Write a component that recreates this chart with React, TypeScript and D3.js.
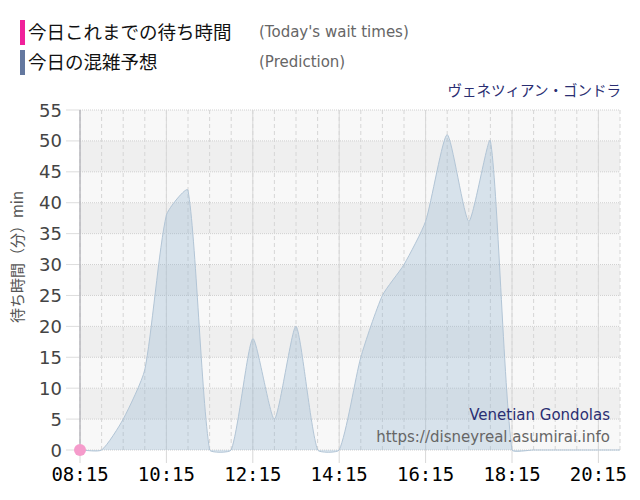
import React from 'react';
import * as d3 from 'd3';

// prediction every 30 min (minutes of wait)
const times = [
  '08:15', '08:45', '09:15', '09:45', '10:15', '10:45', '11:15', '11:45',
  '12:15', '12:45', '13:15', '13:45', '14:15', '14:45', '15:15', '15:45',
  '16:15', '16:45', '17:15', '17:45', '18:15', '18:45', '19:15', '19:45',
  '20:15', '20:45'
];
const prediction = [
  0, 0, 5, 13, 38, 42, 0, 0,
  18, 5, 20, 0, 0, 15, 25, 30,
  37, 51, 37, 50, 0, 0, 0, 0,
  0, 0
];
const actualTimes = ['08:15'];
const actualValues = [0];
const yTicks = [0, 5, 10, 15, 20, 25, 30, 35, 40, 45, 50, 55];
const xTickLabels = ['08:15', '10:15', '12:15', '14:15', '16:15', '18:15', '20:15'];

const toMin = (t: string) => {
  const [h, m] = t.split(':').map(Number);
  return h * 60 + m;
};

type P = [number, number];

// chart.js style spline, control points capped to the area
const splinePath = (p: P[], tension: number, yMin: number, yMax: number, close?: number) => {
  const cps = p.map((cur, i) => {
    const prev = p[Math.max(0, i - 1)];
    const next = p[Math.min(p.length - 1, i + 1)];
    const d01 = Math.hypot(cur[0] - prev[0], cur[1] - prev[1]);
    const d12 = Math.hypot(next[0] - cur[0], next[1] - cur[1]);
    const tot = d01 + d12 || 1;
    const fa = (tension * d01) / tot;
    const fb = (tension * d12) / tot;
    const cap = (v: number) => Math.max(yMin, Math.min(yMax, v));
    return {
      prev: [cur[0] - fa * (next[0] - prev[0]), cap(cur[1] - fa * (next[1] - prev[1]))] as P,
      next: [cur[0] + fb * (next[0] - prev[0]), cap(cur[1] + fb * (next[1] - prev[1]))] as P,
    };
  });
  const path = d3.path();
  path.moveTo(p[0][0], p[0][1]);
  for (let i = 1; i < p.length; i++) {
    const a = cps[i - 1].next, b = cps[i].prev;
    path.bezierCurveTo(a[0], a[1], b[0], b[1], p[i][0], p[i][1]);
  }
  if (close !== undefined) {
    path.lineTo(p[p.length - 1][0], close);
    path.lineTo(p[0][0], close);
    path.closePath();
  }
  return path.toString();
};

const App: React.FC = () => {
  const left = 80, right = 620, top = 110, bottom = 450;
  const x = d3.scaleLinear().domain([toMin(times[0]), toMin(times[times.length - 1])]).range([left, right]);
  const y = d3.scaleLinear().domain([0, 55]).range([bottom, top]);

  const pts: P[] = times.map((t, i) => [x(toMin(t)), y(prediction[i])]);
  const areaD = splinePath(pts, 0.2, top, bottom + 3, y(0));
  const lineD = splinePath(pts, 0.2, top, bottom + 3);

  const halfHours = d3.range(toMin(times[0]), toMin(times[times.length - 1]) + 1, 30);
  const bands = d3.range(0, 55, 5);

  const jp = '"Noto Sans CJK JP", sans-serif';
  const sans = '"DejaVu Sans", Verdana, sans-serif';

  return (
    <svg width={640} height={500} style={{ position: 'absolute', left: 0, top: 0, background: '#fff' }}>
      {/* legend */}
      <rect x={20} y={20} width={5} height={25} fill="#f0219a" />
      <text x={28} y={39} fontFamily={jp} fontSize={18.5} fill="#111">今日これまでの待ち時間</text>
      <text x={259} y={37} fontFamily={sans} fontSize={15} fill="#666">(Today's wait times)</text>
      <rect x={20} y={50} width={5} height={25} fill="#64789f" />
      <text x={28} y={69} fontFamily={jp} fontSize={18.5} fill="#111">今日の混雑予想</text>
      <text x={259} y={67} fontFamily={sans} fontSize={15} fill="#666">(Prediction)</text>
      <text x={621} y={96} textAnchor="end" fontFamily={jp} fontSize={14.5} fill="#2a2e72">ヴェネツィアン・ゴンドラ</text>

      {/* plot bands */}
      {bands.map((b, i) => (
        <rect key={b} x={left} y={y(b + 5)} width={right - left} height={y(b) - y(b + 5)}
          fill={i % 2 === 1 ? '#efefef' : '#f8f8f8'} />
      ))}
      {halfHours.map((m) => (
        <line key={m} x1={x(m)} x2={x(m)} y1={top} y2={bottom}
          stroke="#d6d6d6" strokeDasharray="4,3" />
      ))}
      {yTicks.map((v) => (
        <g key={v}>
          <line x1={left} x2={right} y1={y(v)} y2={y(v)} stroke="#d0d0d0" strokeDasharray="1,1" />
          <line x1={66} x2={left} y1={y(v)} y2={y(v)} stroke="#ddd" />
          <text x={62} y={y(v) + 6.5} textAnchor="end" fontFamily={sans} fontSize={18} fill="#444">{v}</text>
        </g>
      ))}
      {xTickLabels.map((t) => (
        <g key={t}>
          <line x1={x(toMin(t))} x2={x(toMin(t))} y1={top} y2={463} stroke="#d8d8d8" />
          <text x={x(toMin(t))} y={481} textAnchor="middle" fontFamily='"DejaVu Sans Mono", monospace' fontSize={19} fill="#000">{t}</text>
        </g>
      ))}
      <line x1={left} x2={left} y1={top} y2={bottom} stroke="#a8a8b0" />

      {/* prediction */}
      <path d={areaD} fill="rgb(140,175,205)" fillOpacity={0.3} />
      <path d={lineD} fill="none" stroke="#b2c5d6" strokeWidth={1} />

      {/* actual */}
      {actualTimes.map((t, i) => (
        <circle key={t} cx={x(toMin(t))} cy={y(actualValues[i])} r={6} fill="#f59bcb" />
      ))}

      {/* axis title */}
      <text transform="translate(23,257) rotate(-90)" textAnchor="middle" fontFamily={jp} fontSize={15} fill="#555">待ち時間（分）min</text>

      {/* watermark */}
      <text x={610} y={420} textAnchor="end" fontFamily={sans} fontSize={15} fill="#2a2e72">Venetian Gondolas</text>
      <text x={610} y={442} textAnchor="end" fontFamily={sans} fontSize={15} fill="#666">https://disneyreal.asumirai.info</text>
    </svg>
  );
};

export default App;
